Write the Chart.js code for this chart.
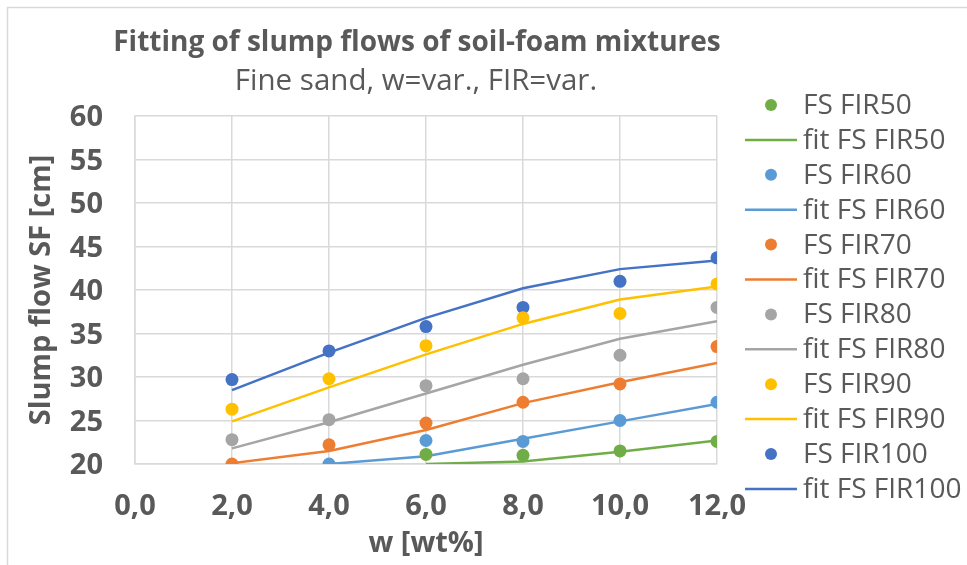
<!DOCTYPE html>
<html>
<head>
<meta charset="utf-8">
<script src="https://cdn.jsdelivr.net/npm/chart.js@4/dist/chart.umd.min.js"></script>
<style>
  html, body { margin: 0; padding: 0; background: #ffffff; }
  #wrap { width: 967px; height: 565px; position: relative; }
</style>
</head>
<body>
<div id="wrap"><canvas id="c" width="967" height="565"></canvas></div>
<script>
// Water content w [wt%]
const wValues = [2, 4, 6, 8, 10, 12];

// Measured slump flows SF [cm] per foam injection ratio (null = not measured)
const sfFIR50  = [null, null, 21.1, 21.0, 21.5, 22.6];
const sfFIR60  = [null, 20.0, 22.7, 22.6, 25.0, 27.1];
const sfFIR70  = [20.0, 22.2, 24.7, 27.1, 29.2, 33.5];
const sfFIR80  = [22.8, 25.1, 29.0, 29.8, 32.5, 38.0];
const sfFIR90  = [26.3, 29.8, 33.6, 36.8, 37.3, 40.7];
const sfFIR100 = [29.7, 33.0, 35.8, 38.0, 41.0, 43.7];

// Fitted slump flows SF [cm]
const fitFIR50  = [null, null, 20.0, 20.3, 21.4, 22.7];
const fitFIR60  = [null, 20.0, 20.9, 22.9, 24.9, 26.9];
const fitFIR70  = [20.1, 21.5, 23.9, 27.0, 29.4, 31.6];
const fitFIR80  = [21.8, 24.8, 28.1, 31.4, 34.4, 36.4];
const fitFIR90  = [24.9, 28.8, 32.6, 36.1, 38.9, 40.4];
const fitFIR100 = [28.5, 32.8, 36.8, 40.2, 42.4, 43.4];

// Axis ticks
const xTicks = [0, 2, 4, 6, 8, 10, 12];
const yTicks = [20, 25, 30, 35, 40, 45, 50, 55, 60];

const seriesNames = ['FIR50', 'FIR60', 'FIR70', 'FIR80', 'FIR90', 'FIR100'];
const seriesColors = ['#70AD47', '#5B9BD5', '#ED7D31', '#A5A5A5', '#FFC000', '#4472C4'];
const measured = [sfFIR50, sfFIR60, sfFIR70, sfFIR80, sfFIR90, sfFIR100];
const fitted = [fitFIR50, fitFIR60, fitFIR70, fitFIR80, fitFIR90, fitFIR100];

const TEXT = '#595959';
const GRID = '#D9D9D9';
const FONT = '"Open Sans", "DejaVu Sans", sans-serif';

function toPoints(vals) {
  return wValues.map((x, i) => ({ x: x, y: vals[i] })).filter(p => p.y !== null);
}

const datasets = [];
seriesNames.forEach((name, i) => {
  datasets.push({
    label: 'FS ' + name,
    data: toPoints(measured[i]),
    showLine: false,
    pointRadius: 6.5,
    pointHoverRadius: 6.5,
    pointBackgroundColor: seriesColors[i],
    pointBorderColor: seriesColors[i],
    pointBorderWidth: 0,
    kind: 'marker'
  });
  datasets.push({
    label: 'fit FS ' + name,
    data: toPoints(fitted[i]),
    showLine: true,
    borderColor: seriesColors[i],
    borderWidth: 2.5,
    pointRadius: 0,
    pointHoverRadius: 0,
    tension: 0,
    kind: 'line'
  });
});

// Titles, outer frame and legend drawn on the canvas
const decorPlugin = {
  id: 'decor',
  beforeDraw(chart) {
    const ctx = chart.ctx;
    ctx.save();
    ctx.strokeStyle = GRID;
    ctx.lineWidth = 1.5;
    ctx.beginPath();
    ctx.moveTo(7.5, 565);
    ctx.lineTo(7.5, 7.5);
    ctx.lineTo(967, 7.5);
    ctx.stroke();
    ctx.restore();
  },
  afterDraw(chart) {
    const ctx = chart.ctx;
    ctx.save();
    ctx.fillStyle = TEXT;
    ctx.textAlign = 'center';
    ctx.textBaseline = 'middle';
    ctx.font = 'bold 28px ' + FONT;
    ctx.fillText('Fitting of slump flows of soil-foam mixtures', 417, 43);
    ctx.font = '29.5px ' + FONT;
    ctx.fillText('Fine sand, w=var., FIR=var.', 416, 82);

    // legend
    const rowY0 = 105, rowStep = 34.9;
    ctx.textAlign = 'left';
    ctx.font = '28px ' + FONT;
    chart.data.datasets.forEach((ds, i) => {
      const y = rowY0 + i * rowStep;
      const color = seriesColors[Math.floor(i / 2)];
      if (ds.kind === 'marker') {
        ctx.fillStyle = color;
        ctx.beginPath();
        ctx.arc(771, y, 6, 0, Math.PI * 2);
        ctx.fill();
      } else {
        ctx.strokeStyle = color;
        ctx.lineWidth = 2.5;
        ctx.beginPath();
        ctx.moveTo(745, y);
        ctx.lineTo(797, y);
        ctx.stroke();
      }
      ctx.fillStyle = TEXT;
      ctx.fillText(ds.label, 803, y + 1);
    });
    ctx.restore();
  }
};

new Chart(document.getElementById('c'), {
  type: 'scatter',
  data: { datasets: datasets },
  plugins: [decorPlugin],
  options: {
    responsive: false,
    animation: false,
    events: [],
    layout: { padding: { top: 116, right: 250, bottom: 0, left: 0 } },
    plugins: {
      legend: { display: false },
      title: { display: false },
      tooltip: { enabled: false }
    },
    scales: {
      x: {
        type: 'linear',
        min: 0,
        max: 12,
        afterFit(scale) { scale.height = 101; },
        afterBuildTicks(scale) { scale.ticks = xTicks.map(v => ({ value: v })); },
        ticks: {
          color: TEXT,
          font: { family: FONT, size: 29, weight: 'bold' },
          padding: 25,
          maxRotation: 0,
          autoSkip: false,
          callback: v => v.toFixed(1).replace('.', ',')
        },
        grid: { color: GRID, lineWidth: 1.5, drawTicks: false },
        border: { color: GRID, width: 1.5 },
        title: {
          display: true,
          text: 'w [wt%]',
          color: TEXT,
          font: { family: FONT, size: 29, weight: 'bold' },
          padding: { top: 0, bottom: 4 }
        }
      },
      y: {
        type: 'linear',
        min: 20,
        max: 60,
        afterFit(scale) { scale.width = 135; },
        afterBuildTicks(scale) { scale.ticks = yTicks.map(v => ({ value: v })); },
        ticks: {
          color: TEXT,
          font: { family: FONT, size: 29, weight: 'bold' },
          padding: 32,
          labelOffset: 2,
          autoSkip: false
        },
        grid: { color: GRID, lineWidth: 1.5, drawTicks: false },
        border: { color: GRID, width: 1.5 },
        title: {
          display: true,
          text: 'Slump flow SF [cm]',
          color: TEXT,
          font: { family: FONT, size: 29, weight: 'bold' },
          padding: { top: 24, bottom: 0 }
        }
      }
    }
  }
});
</script>
</body>
</html>
